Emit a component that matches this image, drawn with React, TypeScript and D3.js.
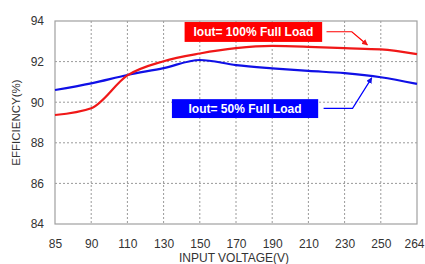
import { useEffect, useRef } from "react";
import * as d3 from "d3";

const WIDTH = 425;
const HEIGHT = 264;
const MARGIN = { top: 21, right: 8, bottom: 40, left: 55 };

const voltages = ["85", "90", "110", "130", "150", "170", "190", "210", "230", "250", "264"];
const fullLoad = [89.37, 89.7, 91.32, 92.02, 92.4, 92.66, 92.77, 92.73, 92.66, 92.6, 92.37];
const halfLoad = [90.6, 90.93, 91.34, 91.68, 92.08, 91.83, 91.67, 91.54, 91.43, 91.23, 90.9];
const yTicks = [84, 86, 88, 90, 92, 94];

const FONT = "Arial, 'Liberation Sans', sans-serif";
const RED = "#f01818";
const BLUE = "#1010e6";

export default function App() {
  const svgRef = useRef<SVGSVGElement | null>(null);

  useEffect(() => {
    document.body.style.margin = "0";
    if (!svgRef.current) return;
    const svg = d3.select(svgRef.current);
    svg.selectAll("*").remove();

    const innerWidth = WIDTH - MARGIN.left - MARGIN.right;
    const innerHeight = 203;

    const x = d3.scalePoint<string>().domain(voltages).range([0, innerWidth]);
    // index based helper for annotation placement between categories
    const xi = d3.scaleLinear().domain([0, voltages.length - 1]).range([0, innerWidth]);
    const y = d3.scaleLinear().domain([84, 94]).range([innerHeight, 0]);

    const defs = svg.append("defs");
    [["arrRed", RED], ["arrBlue", BLUE]].forEach(([id, c]) => {
      defs
        .append("marker")
        .attr("id", id)
        .attr("viewBox", "0 0 10 10")
        .attr("refX", 9)
        .attr("refY", 5)
        .attr("markerWidth", 5)
        .attr("markerHeight", 5)
        .attr("orient", "auto")
        .append("path")
        .attr("d", "M0,0L10,5L0,10z")
        .attr("fill", c);
    });

    const g = svg.append("g").attr("transform", `translate(${MARGIN.left},${MARGIN.top})`);

    // Grid
    g.append("g")
      .selectAll("line")
      .data(voltages.slice(1, -1))
      .enter()
      .append("line")
      .attr("x1", (d) => x(d) ?? 0)
      .attr("x2", (d) => x(d) ?? 0)
      .attr("y1", 0)
      .attr("y2", innerHeight)
      .attr("stroke", "#9a9a9a")
      .attr("stroke-width", 1)
      .attr("stroke-dasharray", "2,2");

    g.append("g")
      .selectAll("line")
      .data(yTicks.slice(1, -1))
      .enter()
      .append("line")
      .attr("x1", 0)
      .attr("x2", innerWidth)
      .attr("y1", (d) => y(d))
      .attr("y2", (d) => y(d))
      .attr("stroke", "#9a9a9a")
      .attr("stroke-width", 1)
      .attr("stroke-dasharray", "2,2");

    // Frame
    g.append("rect")
      .attr("x", 0)
      .attr("y", 0)
      .attr("width", innerWidth)
      .attr("height", innerHeight)
      .attr("fill", "none")
      .attr("stroke", "#a0a0a0")
      .attr("stroke-width", 1.2);

    // Axes
    g.append("g")
      .attr("transform", `translate(0,${innerHeight})`)
      .call(d3.axisBottom(x).tickSize(0).tickPadding(15))
      .call((a: any) => {
        a.select(".domain").remove();
        a.selectAll("text").attr("fill", "#333").style("font-size", "12px").style("font-family", FONT);
        // keep the last label inside the page edge
        a.selectAll("text").filter((d: string) => d === voltages[voltages.length - 1]).attr("dx", "-3");
      });

    g.append("g")
      .call(d3.axisLeft(y).tickValues(yTicks).tickSize(0).tickPadding(11).tickFormat((v: any) => `${v}`))
      .call((a: any) => {
        a.select(".domain").remove();
        a.selectAll("text").attr("fill", "#333").style("font-size", "12px").style("font-family", FONT);
      });

    // Curves
    const line = d3
      .line<number>()
      .x((_, i) => x(voltages[i]) ?? 0)
      .y((d) => y(d))
      .curve(d3.curveMonotoneX);

    g.append("path")
      .datum(halfLoad)
      .attr("d", line)
      .attr("fill", "none")
      .attr("stroke", BLUE)
      .attr("stroke-width", 2.2);

    g.append("path")
      .datum(fullLoad)
      .attr("d", line)
      .attr("fill", "none")
      .attr("stroke", RED)
      .attr("stroke-width", 2.2);

    // Annotations
    const note = (
      label: string,
      color: string,
      marker: string,
      bx0: number,
      bx1: number,
      by0: number,
      by1: number,
      path: [number, number][],
    ) => {
      g.append("rect")
        .attr("x", xi(bx0))
        .attr("y", y(by0))
        .attr("width", xi(bx1) - xi(bx0))
        .attr("height", y(by1) - y(by0))
        .attr("fill", color);
      g.append("text")
        .attr("x", (xi(bx0) + xi(bx1)) / 2)
        .attr("y", (y(by0) + y(by1)) / 2 + 4.5)
        .attr("text-anchor", "middle")
        .attr("fill", "#fff")
        .style("font-family", FONT)
        .style("font-weight", "bold")
        .style("font-size", "12px")
        .text(label);
      g.append("path")
        .attr("d", d3.line()(path.map(([a, b]) => [xi(a), y(b)])))
        .attr("fill", "none")
        .attr("stroke", color)
        .attr("stroke-width", 1.2)
        .attr("marker-end", `url(#${marker})`);
    };

    note("Iout= 100% Full Load", "#ff0000", "arrRed", 3.58, 7.38, 93.95, 92.97, [
      [7.5, 93.47],
      [8.2, 93.47],
      [8.63, 92.82],
    ]);
    note("Iout= 50% Full Load", "#0000ff", "arrBlue", 3.23, 7.27, 90.15, 89.22, [
      [7.42, 89.7],
      [8.22, 89.7],
      [8.75, 91.2],
    ]);

    // Axis titles
    svg
      .append("text")
      .attr("transform", `translate(${MARGIN.left - 35},${MARGIN.top + innerHeight / 2}) rotate(-90)`)
      .attr("text-anchor", "middle")
      .attr("fill", "#333")
      .style("font-family", FONT)
      .style("font-size", "11.5px")
      .text("EFFICIENCY(%)");

    svg
      .append("text")
      .attr("x", MARGIN.left + innerWidth / 2 - 2)
      .attr("y", HEIGHT - 2)
      .attr("text-anchor", "middle")
      .attr("fill", "#333")
      .style("font-family", FONT)
      .style("font-size", "12px")
      .text("INPUT VOLTAGE(V)");
  }, []);

  return <svg ref={svgRef} width={WIDTH} height={HEIGHT} style={{ display: "block" }} />;
}
